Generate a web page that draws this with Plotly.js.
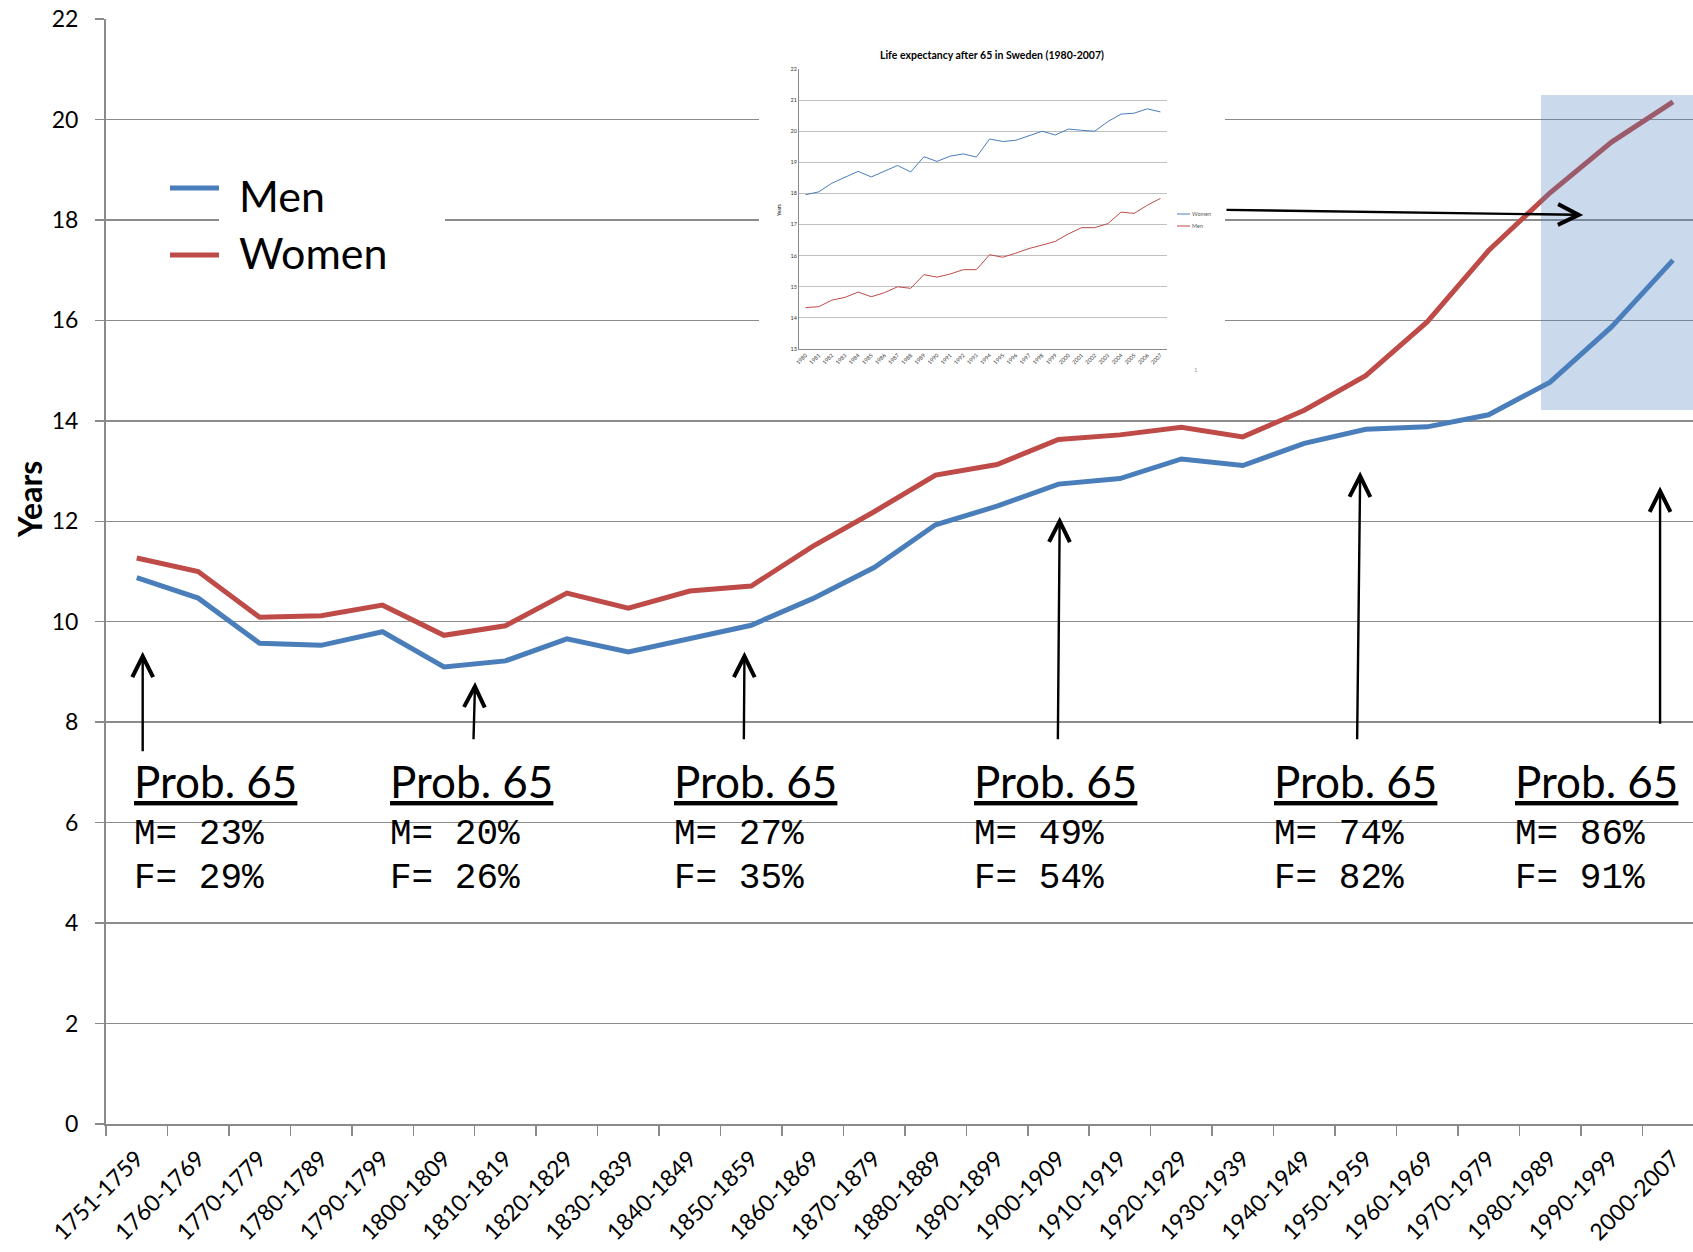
<!DOCTYPE html>
<html><head><meta charset="utf-8">
<script src="https://cdn.plot.ly/plotly-3.0.1.min.js"></script>
<style>html,body{margin:0;padding:0;background:#fff;overflow:hidden}#chart{width:1693px;height:1252px}</style>
</head><body><div id="chart"></div>
<script>
// ---------- data ----------
const periods = ['1751-1759','1760-1769','1770-1779','1780-1789','1790-1799','1800-1809','1810-1819','1820-1829','1830-1839','1840-1849','1850-1859','1860-1869','1870-1879','1880-1889','1890-1899','1900-1909','1910-1919','1920-1929','1930-1939','1940-1949','1950-1959','1960-1969','1970-1979','1980-1989','1990-1999','2000-2007'];
const menYears   = [10.88,10.47,9.57,9.53,9.80,9.10,9.22,9.66,9.40,9.66,9.93,10.46,11.08,11.93,12.30,12.74,12.85,13.24,13.11,13.55,13.83,13.88,14.12,14.77,15.87,17.20];
const womenYears = [11.27,11.00,10.09,10.12,10.33,9.73,9.92,10.57,10.27,10.61,10.71,11.50,12.19,12.92,13.13,13.63,13.72,13.87,13.68,14.21,14.90,15.97,17.39,18.54,19.55,20.35];

const insetYearLabels = ['1980','1981','1982','1983','1984','1985','1986','1987','1988','1989','1990','1991','1992','1993','1994','1995','1996','1997','1998','1999','2000','2001','2002','2003','2004','2005','2006','2007'];
const insetWomen = [17.96,18.05,18.33,18.52,18.71,18.53,18.72,18.90,18.69,19.18,19.03,19.20,19.27,19.17,19.75,19.67,19.71,19.86,20.00,19.88,20.07,20.03,20.00,20.31,20.55,20.58,20.72,20.62];
const insetMen   = [14.33,14.36,14.57,14.66,14.83,14.68,14.81,15.00,14.95,15.39,15.31,15.41,15.55,15.55,16.03,15.95,16.08,16.23,16.34,16.46,16.70,16.90,16.90,17.03,17.40,17.36,17.62,17.84];

const probTitle = 'Prob. 65';
const probMen   = ['23%','20%','27%','49%','74%','86%'];
const probWomen = ['29%','26%','35%','54%','82%','91%'];
const insetTitle = 'Life expectancy after 65 in Sweden (1980-2007)';

// ---------- layout helpers ----------
const W = 1693, H = 1252, ML = 106, MT = 19, MB = 128, MR = 0;
const PW = W - ML - MR, PH = H - MT - MB;
const px = x => (x - ML) / PW;
const py = y => (H - MB - y) / PH;
const catW = 61.45;
const FONT = 'Lato, Carlito, Calibri, sans-serif';
const MONO = '"Courier New", "Liberation Mono", monospace';
const BLUE = '#4a7ebb', RED = '#be4b48';

const traces = [
  {x: periods, y: menYears, name: 'Men', type: 'scatter', mode: 'lines', xaxis: 'x', yaxis: 'y',
   line: {color: BLUE, width: 5}, showlegend: false},
  {x: periods, y: womenYears, name: 'Women', type: 'scatter', mode: 'lines', xaxis: 'x', yaxis: 'y',
   line: {color: RED, width: 5}, showlegend: false},
  // empty trace that only makes the white backing panel of the inset exist
  {x: [], y: [], type: 'scatter', mode: 'lines', xaxis: 'x2', yaxis: 'y2', showlegend: false, hoverinfo: 'skip'},
  {x: insetYearLabels, y: insetWomen, name: 'Women', type: 'scatter', mode: 'lines', xaxis: 'x3', yaxis: 'y3',
   line: {color: BLUE, width: 1}, showlegend: false},
  {x: insetYearLabels, y: insetMen, name: 'Men', type: 'scatter', mode: 'lines', xaxis: 'x3', yaxis: 'y3',
   line: {color: RED, width: 1}, showlegend: false}
];

// annotation blocks
const blockX = [135, 391, 675, 975, 1275, 1516];
const annotations = [];
annotations.push({xref:'paper', yref:'paper', x: px(29), y: py(500), text: '<b>Years</b>', textangle: -90,
  showarrow: false, xanchor: 'center', yanchor: 'middle', font: {family: FONT, size: 32, color: '#000'}});
annotations.push({xref:'paper', yref:'paper', x: px(237), y: py(195), text: 'Men', showarrow: false,
  xanchor: 'left', yanchor: 'middle', font: {family: FONT, size: 43, color: '#000'}});
annotations.push({xref:'paper', yref:'paper', x: px(237), y: py(252), text: 'Women', showarrow: false,
  xanchor: 'left', yanchor: 'middle', font: {family: FONT, size: 43, color: '#000'}});
blockX.forEach((bx, i) => {
  annotations.push({xref:'paper', yref:'paper', x: px(bx - 3), y: py(781), text: '<u>' + probTitle + '</u>',
    showarrow: false, xanchor: 'left', yanchor: 'middle', font: {family: FONT, size: 44, color: '#000'}});
  annotations.push({xref:'paper', yref:'paper', x: px(bx - 3), y: py(834), text: 'M= ' + probMen[i],
    showarrow: false, xanchor: 'left', yanchor: 'middle', font: {family: MONO, size: 36, color: '#000'}});
  annotations.push({xref:'paper', yref:'paper', x: px(bx - 3), y: py(878), text: 'F= ' + probWomen[i],
    showarrow: false, xanchor: 'left', yanchor: 'middle', font: {family: MONO, size: 36, color: '#000'}});
});
// arrows (head x,y ; tail ax,ay) in data coordinates
const arrows = [
  [0.097, 9.40, 0.097, 7.39],
  [5.506, 8.80, 5.48, 7.63],
  [9.89, 9.40, 9.88, 7.63],
  [15.02, 12.09, 14.99, 7.63],
  [19.91, 12.99, 19.86, 7.63],
  [24.79, 12.69, 24.79, 7.94],
  [23.54, 18.10, 17.71, 18.20]
];
arrows.forEach(a => annotations.push({xref:'x', yref:'y', x: a[0], y: a[1], axref:'x', ayref:'y', ax: a[2], ay: a[3],
  text: '', showarrow: true, arrowhead: 5, arrowsize: 1.7, arrowwidth: 2.4, arrowcolor: '#000', standoff: 0}));
// inset texts
annotations.push({xref:'paper', yref:'paper', x: px(992), y: py(55), text: '<b>' + insetTitle + '</b>', showarrow: false,
  xanchor: 'center', yanchor: 'middle', font: {family: FONT, size: 10.5, color: '#000'}});
annotations.push({xref:'paper', yref:'paper', x: px(779), y: py(210), text: 'Years', textangle: -90, showarrow: false,
  xanchor: 'center', yanchor: 'middle', font: {family: FONT, size: 5, color: '#000'}});
annotations.push({xref:'paper', yref:'paper', x: px(1190), y: py(214), text: 'Women', showarrow: false,
  xanchor: 'left', yanchor: 'middle', font: {family: FONT, size: 5.5, color: '#595959'}});
annotations.push({xref:'paper', yref:'paper', x: px(1190), y: py(226), text: 'Men', showarrow: false,
  xanchor: 'left', yanchor: 'middle', font: {family: FONT, size: 5.5, color: '#595959'}});
annotations.push({xref:'paper', yref:'paper', x: px(1196), y: py(369), text: '1', showarrow: false,
  xanchor: 'center', yanchor: 'middle', font: {family: FONT, size: 6, color: '#999'}});

const shapes = [
  // white legend box interrupting gridline
  {type:'rect', xref:'paper', yref:'paper', x0: px(219), x1: px(445), y0: py(234), y1: py(206),
   fillcolor:'#fff', line:{width:0}, layer:'above'},
  {type:'line', xref:'paper', yref:'paper', x0: px(170), x1: px(219), y0: py(188), y1: py(188),
   line:{color: BLUE, width: 5}, layer:'above'},
  {type:'line', xref:'paper', yref:'paper', x0: px(170), x1: px(219), y0: py(255), y1: py(255),
   line:{color: RED, width: 5}, layer:'above'},
  // highlighted region
  {type:'rect', xref:'paper', yref:'paper', x0: px(1541), x1: 1, y0: py(410), y1: py(95),
   fillcolor:'rgba(79,129,189,0.30)', line:{width:0}, layer:'above'},
  // inset legend lines
  {type:'line', xref:'paper', yref:'paper', x0: px(1177), x1: px(1190), y0: py(214), y1: py(214),
   line:{color: BLUE, width: 1}, layer:'above'},
  {type:'line', xref:'paper', yref:'paper', x0: px(1177), x1: px(1190), y0: py(226), y1: py(226),
   line:{color: RED, width: 1}, layer:'above'}
];

const layout = {
  width: W, height: H,
  margin: {l: ML, r: MR, t: MT, b: MB, pad: 0},
  paper_bgcolor: '#fff', plot_bgcolor: '#fff',
  showlegend: false,
  font: {family: FONT, color: '#000'},
  xaxis: {type: 'category', domain: [0, 1], anchor: 'y', range: [-0.5, -0.5 + PW / catW],
    tickmode: 'linear', tick0: 0, dtick: 1, tickson: 'boundaries',
    showgrid: false, zeroline: false, showline: true, linecolor: '#8a8a8a', linewidth: 2,
    ticks: 'outside', ticklen: 10, tickwidth: 1.5, tickcolor: '#8a8a8a',
    tickangle: -45, tickfont: {family: FONT, size: 23, color: '#000'}, ticklabelstandoff: 10},
  yaxis: {domain: [0, 1], anchor: 'x', range: [0, 22], tickmode: 'linear', tick0: 0, dtick: 2,
    showgrid: true, gridcolor: '#8c8c8c', gridwidth: 1.5, zeroline: false,
    showline: true, linecolor: '#8a8a8a', linewidth: 2,
    ticks: 'outside', ticklen: 9, tickwidth: 1.5, tickcolor: '#8a8a8a',
    tickfont: {family: FONT, size: 23, color: '#000'}, ticklabelstandoff: 12},
  // white backing box of the inset picture
  xaxis2: {domain: [px(759), px(1225)], anchor: 'y2', range: [0, 1], showgrid: false, zeroline: false,
    showline: false, showticklabels: false, ticks: ''},
  yaxis2: {domain: [py(385), py(30)], anchor: 'x2', range: [0, 1], showgrid: false, zeroline: false,
    showline: false, showticklabels: false, ticks: ''},
  // inset chart
  xaxis3: {type: 'category', domain: [px(799), px(1167)], anchor: 'y3', range: [-0.5, 27.5],
    tickmode: 'linear', tick0: 0, dtick: 1, showgrid: false, zeroline: false,
    showline: true, linecolor: '#8a8a8a', linewidth: 1, ticks: '',
    tickangle: -45, tickfont: {family: FONT, size: 5.5, color: '#333'}},
  yaxis3: {domain: [py(349), py(69)], anchor: 'x3', range: [13, 22], tickmode: 'linear', tick0: 13, dtick: 1,
    showgrid: true, gridcolor: '#c0c0c0', gridwidth: 1, zeroline: false,
    showline: true, linecolor: '#8a8a8a', linewidth: 1, ticks: '',
    tickfont: {family: FONT, size: 5.5, color: '#333'}},
  shapes: shapes,
  annotations: annotations
};

Plotly.newPlot('chart', traces, layout, {displayModeBar: false, staticPlot: true});
</script>
</body></html>
